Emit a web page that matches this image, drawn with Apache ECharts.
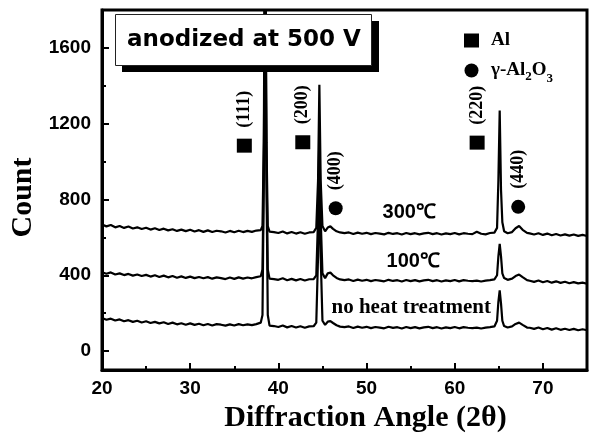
<!DOCTYPE html>
<html>
<head>
<meta charset="utf-8">
<script src="https://cdn.jsdelivr.net/npm/echarts@6/dist/echarts.min.js"></script>
<style>
  html, body { margin: 0; padding: 0; background: #fff; }
  #chart { width: 590px; height: 435px; }
</style>
</head>
<body>
<div id="chart"></div>
<script>
// Diffraction angles (2θ, degrees)
const angles = [
  20,20.5,21,21.5,22,22.5,23,23.5,24,24.5,25,25.5,26,26.5,27,27.5,28,28.5,29,29.5,
  30,30.5,31,31.5,32,32.5,33,33.5,34,34.5,35,35.5,36,36.5,37,37.5,
  38,38.2,38.35,38.5,38.65,38.8,39,
  39.5,40,40.5,41,41.5,42,42.5,43,43.5,44,
  44.3,44.5,44.65,44.8,45,45.3,
  45.6,45.9,46.2,46.6,47,
  47.5,48,48.5,49,49.5,50,50.5,51,51.5,52,52.5,53,53.5,54,54.5,55,55.5,56,56.5,57,
  57.5,58,58.5,59,59.5,60,60.5,61,61.5,62,62.5,63,63.5,64,64.5,
  64.8,64.95,65.1,65.25,65.4,65.6,
  66,66.5,66.9,67.3,67.7,68.2,
  68.5,69,69.5,70,70.5,71,71.5,72,72.5,73,73.5,74,74.5,75
];
// Counts, 300 °C anneal
const count300 = [
  668,658,665,653,660,650,657,647,653,644,651,641,648,639,646,637,643,634,641,633,
  640,631,638,629,637,628,635,632,626,634,627,635,628,634,629,636,
  638,660,1100,2600,1100,660,630,
  628,623,631,621,628,620,627,619,626,628,
  650,900,1405,900,660,632,
  652,658,645,632,626,
  622,626,618,625,619,624,617,623,620,616,624,618,622,615,623,617,622,616,621,624,
  617,622,615,621,617,623,616,622,619,617,630,619,616,623,625,
  650,900,1270,850,680,632,
  622,628,648,660,640,624,
  621,615,622,613,620,611,618,610,616,609,615,608,613,607
];
// Counts, 100 °C anneal
const count100 = [
  416,408,415,404,410,401,407,398,404,396,402,393,400,391,398,389,396,387,394,386,
  393,385,391,384,390,382,389,385,380,388,381,389,382,388,384,390,
  395,430,1000,2200,1000,430,382,
  380,376,384,374,381,373,380,372,379,380,
  400,700,1150,700,410,385,
  410,414,400,386,378,
  374,378,370,377,371,376,369,375,372,368,376,370,374,367,375,369,374,368,373,376,
  369,374,367,373,369,375,368,374,371,369,372,367,372,374,378,
  400,500,566,500,410,385,
  376,382,396,404,390,374,
  371,365,372,363,370,361,368,360,366,358,364,357,361,355
];
// Counts, no heat treatment
const countNone = [
  174,165,171,161,167,157,163,154,160,151,157,148,154,146,152,143,150,141,147,139,
  146,138,144,136,143,135,142,139,134,141,135,142,136,141,137,142,
  150,190,900,2000,900,190,134,
  132,127,135,125,132,124,131,123,130,131,
  150,500,900,500,160,138,
  155,158,148,136,129,
  126,130,122,129,123,128,121,127,124,120,128,122,126,119,127,121,126,120,125,128,
  121,126,119,125,121,127,120,126,123,121,124,119,124,126,130,
  160,260,320,250,160,132,
  124,130,143,150,138,124,
  123,117,124,115,122,113,120,112,118,111,117,110,115,110
];
const yTickValues = [0, 400, 800, 1200, 1600];
const yMinorValues = [200, 600, 1000, 1400];
const xTickValues = [20, 30, 40, 50, 60, 70];
const xMinorValues = [25, 35, 45, 55, 65];
// Peak markers: [angle, count, label]
const alPeaks = [[36.14, 1084, '(111)'], [42.77, 1102, '(200)'], [62.54, 1100, '(220)']];
const oxidePeaks = [[46.5, 754, '(400)'], [67.2, 761, '(440)']];
// Curve labels: [angle, count, text]
const curveLabels = [[54.84, 733, '300℃'], [55.29, 471, '100℃'], [55.06, 229, 'no heat treatment']];
const titleText = 'anodized at 500 V';

const pair = (ys) => angles.map((a, i) => [a, ys[i]]);

const SERIF = '"Liberation Serif", "Times New Roman", serif';
const SANS = '"Liberation Sans", Arial, sans-serif';

const lineSeries = (name, ys) => ({
  name, type: 'line', data: pair(ys), showSymbol: false, symbol: 'none',
  lineStyle: { color: '#000', width: 2.2 }, z: 3, silent: true
});

const peakLabel = {
  show: true, position: 'top', distance: 11, rotate: 90,
  align: 'left', verticalAlign: 'middle',
  formatter: p => p.data[2],
  fontFamily: SERIF, fontWeight: 'bold', fontSize: 18, color: '#000'
};

const chart = echarts.init(document.getElementById('chart'));
chart.setOption({
  animation: false,
  backgroundColor: '#fff',
  grid: {
    left: 102, right: 3, top: 10, bottom: 65, containLabel: false, outerBoundsMode: 'none',
    show: true, borderColor: '#000', borderWidth: 3, backgroundColor: 'transparent'
  },
  legend: {
    data: [{ name: 'Al', icon: 'rect' }, { name: 'γ-Al2O3', icon: 'circle' }],
    orient: 'vertical', left: 459, top: 26,
    itemWidth: 15, itemHeight: 14, itemGap: 11,
    selectedMode: false,
    itemStyle: { opacity: 1 },
    formatter: n => n === 'Al' ? 'Al' : 'γ-Al{s|2}O{s2|3}',
    textStyle: {
      fontFamily: SERIF, fontWeight: 'bold', fontSize: 19, color: '#000', padding: [0, 0, 0, 7],
      rich: {
        s: { fontFamily: SERIF, fontWeight: 'bold', fontSize: 13, color: '#000', padding: [12, 0, 0, 0] },
        s2: { fontFamily: SERIF, fontWeight: 'bold', fontSize: 13, color: '#000', padding: [16, 0, 0, 0] }
      }
    }
  },
  xAxis: [{
    type: 'value', min: 20, max: 75, interval: 10,
    name: 'Diffraction Angle (2θ)', nameLocation: 'middle', nameGap: 33,
    nameTextStyle: { fontFamily: SERIF, fontWeight: 'bold', fontSize: 30, color: '#000', padding: [0, 0, 0, 42] },
    axisLine: { show: true, onZero: false, lineStyle: { color: '#000', width: 3 } },
    axisTick: { show: true, inside: true, length: 7, lineStyle: { color: '#000', width: 2 }, customValues: xTickValues },
    axisLabel: { customValues: xTickValues, margin: 9, fontFamily: SANS, fontWeight: 'bold', fontSize: 19, color: '#000', formatter: v => String(v) },
    splitLine: { show: false }
  }, {
    type: 'value', min: 20, max: 75, position: 'bottom',
    axisLine: { show: false, onZero: false },
    axisTick: { show: true, inside: true, length: 4, lineStyle: { color: '#000', width: 2 }, customValues: xMinorValues },
    axisLabel: { show: false }, splitLine: { show: false }
  }],
  yAxis: [{
    type: 'value', min: -100, max: 1800,
    name: 'Count', nameLocation: 'middle', nameGap: 57, nameRotate: 90,
    nameTextStyle: { fontFamily: SERIF, fontWeight: 'bold', fontSize: 30, color: '#000', padding: [0, 15, 0, 0] },
    axisLine: { show: true, onZero: false, lineStyle: { color: '#000', width: 3 } },
    axisTick: { show: true, inside: true, length: 7, lineStyle: { color: '#000', width: 2 }, customValues: yTickValues },
    axisLabel: { customValues: yTickValues, margin: 11, fontFamily: SANS, fontWeight: 'bold', fontSize: 19, color: '#000', formatter: v => String(v) },
    splitLine: { show: false }
  }, {
    type: 'value', min: -100, max: 1800, position: 'left',
    axisLine: { show: false, onZero: false },
    axisTick: { show: true, inside: true, length: 4, lineStyle: { color: '#000', width: 2 }, customValues: yMinorValues },
    axisLabel: { show: false }, splitLine: { show: false }
  }],
  series: [
    lineSeries('300', count300),
    lineSeries('100', count100),
    lineSeries('none', countNone),
    {
      name: 'Al', type: 'scatter', symbol: 'rect', symbolSize: [15, 14],
      itemStyle: { color: '#000', opacity: 1 }, data: alPeaks, label: peakLabel, z: 5
    },
    {
      name: 'γ-Al2O3', type: 'scatter', symbol: 'circle', symbolSize: 14,
      itemStyle: { color: '#000', opacity: 1 }, data: oxidePeaks, label: peakLabel, z: 5
    },
    {
      name: 'curveLabels', type: 'scatter', symbolSize: 0, z: 6, silent: true,
      itemStyle: { opacity: 1 },
      data: curveLabels.map(c => ({
        value: [c[0], c[1]], text: c[2],
        label: c[2].indexOf('℃') >= 0
          ? { fontFamily: SANS, fontSize: 20 }
          : { fontFamily: SERIF, fontSize: 21 }
      })),
      label: {
        show: true, position: 'inside', fontWeight: 'bold', color: '#000',
        formatter: p => p.data.text
      }
    }
  ],
  graphic: [
    { type: 'rect', z: 100, shape: { x: 122, y: 21, width: 257, height: 51 }, style: { fill: '#000' } },
    { type: 'rect', z: 101, shape: { x: 115.5, y: 14.5, width: 256, height: 51 }, style: { fill: '#fff', stroke: '#222', lineWidth: 1 } },
    { type: 'text', z: 102, x: 244, y: 40,
      style: { text: titleText, fontFamily: '"DejaVu Sans", sans-serif', fontWeight: 'bold', fontSize: 23, fill: '#000', align: 'center', verticalAlign: 'middle' } }
  ]
});
</script>
</body>
</html>
